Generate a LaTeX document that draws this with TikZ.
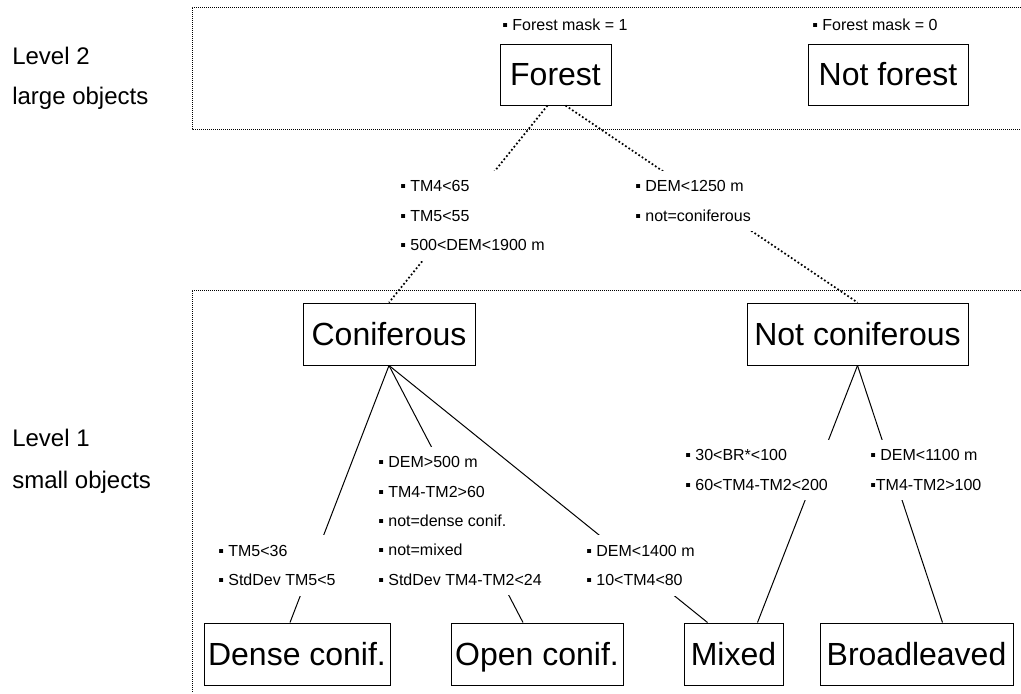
\documentclass[tikz,border=0pt]{standalone}
\usepackage{fontspec}
\setmainfont{Liberation Sans}
\usetikzlibrary{calc, positioning}

\begin{document}
\begin{tikzpicture}[x=0.75pt, y=-0.75pt,
    box/.style={draw, line width=0.75pt, inner sep=0pt, text height=17.2pt, text depth=0pt, font=\fontsize{24}{28}\selectfont},
    cond/.style={anchor=west, align=left, fill=white, inner xsep=3pt, inner ysep=7.5pt, font=\fontsize{12}{22}\selectfont},
    lvl/.style={anchor=base west, inner sep=0pt, font=\fontsize{18}{22}\selectfont},
    link/.style={line width=0.75pt},
    dotlink/.style={line width=1.3pt, dash pattern=on 1.3pt off 1.7pt},
    frame/.style={line width=0.75pt, dash pattern=on 0.75pt off 0.75pt}]
    \useasboundingbox (0,0) rectangle (1021,693);

    % level frames
    \draw[frame] (1021,7) -- (192,7) -- (192,129) -- (1021,129);
    \draw[frame] (1021,290) -- (192,290) -- (192,693);

    \node[lvl] (lvl2) at (12,64) {Level 2};
    \node[lvl] (lvl2b) at (12,104) {large objects};
    \node[lvl] (lvl1) at (12,446) {Level 1};
    \node[lvl] (lvl1b) at (12,488) {small objects};

    % classes
    \node[box, minimum width=83.25pt, minimum height=45.75pt] (forest) at (555.5,74.5) {Forest};
    \node[box, minimum width=120pt, minimum height=45.75pt] (notforest) at (888,74.5) {Not forest};
    \node[box, minimum width=129pt, minimum height=46.5pt] (conif) at (389,334) {Coniferous};
    \node[box, minimum width=165.75pt, minimum height=46.5pt] (notconif) at (857.5,334) {Not coniferous};
    \node[box, minimum width=139.5pt, minimum height=46.5pt] (dense) at (297,654) {Dense conif.};
    \node[box, minimum width=129pt, minimum height=46.5pt] (open) at (537,654) {Open conif.};
    \node[box, minimum width=74.25pt, minimum height=46.5pt] (mixed) at (733.5,654) {Mixed};
    \node[box, minimum width=144.75pt, minimum height=46.5pt] (broad) at (916.5,654) {Broadleaved};

    \node[cond, fill=none] (mask1) at (498,25) {▪ Forest mask = 1};
    \node[cond, fill=none] (mask0) at (808,25) {▪ Forest mask = 0};

    % connectors, the rules sit on top of them
    \draw[dotlink] ($(forest.south)+(-8,0)$) -- (conif.north);
    \draw[dotlink] ($(forest.south)+(10,0)$) -- (notconif.north);
    \draw[link] (conif.south) -- ($(dense.north)+(-7,0)$);
    \draw[link] (conif.south) -- ($(open.north)+(-14,0)$);
    \draw[link] (notconif.south) -- ($(mixed.north)+(24,0)$);
    \draw[link] (notconif.south) -- ($(broad.north)+(26,0)$);

    \node[cond] (ruleconif) at (396,215.5) {▪ TM4<65\\▪ TM5<55\\▪ 500<DEM<1900 m};
    \node[cond] (rulenotconif) at (631,201) {▪ DEM<1250 m\\▪ not=coniferous};
    \node[cond] (ruledense) at (214,565.5) {▪ TM5<36\\▪ StdDev TM5<5};
    \node[cond] (ruleopen) at (374,521) {▪ DEM>500 m\\▪ TM4-TM2>60\\▪ not=dense conif.\\▪ not=mixed\\▪ StdDev TM4-TM2<24};
    \node[cond] (rulemixedb) at (681,470) {▪ 30<BR*<100\\▪ 60<TM4-TM2<200};
    \node[cond] (rulebroad) at (866,470) {▪ DEM<1100 m\\▪TM4-TM2>100};

    % this one passes beside the open conif. rules
    \draw[link] (conif.south) -- ($(mixed.north)+(-26,0)$);
    \node[cond] (rulemixeda) at (582,565.5) {▪ DEM<1400 m\\▪ 10<TM4<80};
\end{tikzpicture}
\end{document}
